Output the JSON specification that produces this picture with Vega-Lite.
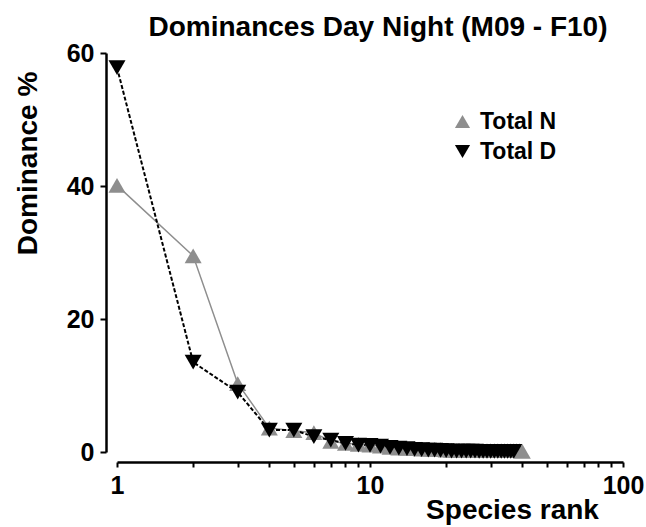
{
  "$schema": "https://vega.github.io/schema/vega-lite/v6.json",
  "autosize": "none",
  "width": 506,
  "height": 399,
  "padding": {"left": 117, "top": 53, "right": 23, "bottom": 75},
  "background": "white",
  "title": {
    "text": "Dominances Day Night (M09 - F10)",
    "font": "Liberation Sans",
    "fontSize": 28,
    "fontWeight": "bold",
    "color": "black",
    "anchor": "middle",
    "frame": "group",
    "baseline": "alphabetic",
    "offset": 17,
    "dx": 8,
    "dy": 40
  },
  "config": {
    "view": {"stroke": null},
    "axis": {
      "domainColor": "black",
      "domainWidth": 2.5,
      "tickColor": "black",
      "tickWidth": 2,
      "grid": false,
      "labelFont": "Liberation Sans",
      "labelFontWeight": "bold",
      "labelFontSize": 25,
      "labelColor": "black",
      "titleFont": "Liberation Sans",
      "titleFontWeight": "bold",
      "titleFontSize": 28,
      "titleColor": "black"
    }
  },
  "data": {
    "values": [
      {"rank": 1, "series": "Total N", "value": 40.1},
      {"rank": 2, "series": "Total N", "value": 29.5},
      {"rank": 3, "series": "Total N", "value": 10.3},
      {"rank": 4, "series": "Total N", "value": 3.6},
      {"rank": 5, "series": "Total N", "value": 3.2},
      {"rank": 6, "series": "Total N", "value": 2.9},
      {"rank": 7, "series": "Total N", "value": 1.6},
      {"rank": 8, "series": "Total N", "value": 1.3},
      {"rank": 9, "series": "Total N", "value": 1.15},
      {"rank": 10, "series": "Total N", "value": 1.05},
      {"rank": 11, "series": "Total N", "value": 0.9},
      {"rank": 12, "series": "Total N", "value": 0.7},
      {"rank": 13, "series": "Total N", "value": 0.6},
      {"rank": 14, "series": "Total N", "value": 0.55},
      {"rank": 15, "series": "Total N", "value": 0.5},
      {"rank": 16, "series": "Total N", "value": 0.45},
      {"rank": 17, "series": "Total N", "value": 0.4},
      {"rank": 18, "series": "Total N", "value": 0.4},
      {"rank": 19, "series": "Total N", "value": 0.35},
      {"rank": 20, "series": "Total N", "value": 0.3},
      {"rank": 21, "series": "Total N", "value": 0.25},
      {"rank": 22, "series": "Total N", "value": 0.2},
      {"rank": 23, "series": "Total N", "value": 0.2},
      {"rank": 24, "series": "Total N", "value": 0.2},
      {"rank": 25, "series": "Total N", "value": 0.2},
      {"rank": 26, "series": "Total N", "value": 0.2},
      {"rank": 27, "series": "Total N", "value": 0.2},
      {"rank": 28, "series": "Total N", "value": 0.2},
      {"rank": 29, "series": "Total N", "value": 0.2},
      {"rank": 30, "series": "Total N", "value": 0.2},
      {"rank": 31, "series": "Total N", "value": 0.2},
      {"rank": 32, "series": "Total N", "value": 0.2},
      {"rank": 33, "series": "Total N", "value": 0.2},
      {"rank": 34, "series": "Total N", "value": 0.2},
      {"rank": 35, "series": "Total N", "value": 0.2},
      {"rank": 36, "series": "Total N", "value": 0.2},
      {"rank": 37, "series": "Total N", "value": 0.2},
      {"rank": 38, "series": "Total N", "value": 0.2},
      {"rank": 39, "series": "Total N", "value": 0.2},
      {"rank": 40, "series": "Total N", "value": 0.1},
      {"rank": 1, "series": "Total D", "value": 57.8},
      {"rank": 2, "series": "Total D", "value": 13.5},
      {"rank": 3, "series": "Total D", "value": 9.0},
      {"rank": 4, "series": "Total D", "value": 3.3},
      {"rank": 5, "series": "Total D", "value": 3.3},
      {"rank": 6, "series": "Total D", "value": 2.3},
      {"rank": 7, "series": "Total D", "value": 1.8},
      {"rank": 8, "series": "Total D", "value": 1.3},
      {"rank": 9, "series": "Total D", "value": 1.05},
      {"rank": 10, "series": "Total D", "value": 1.0},
      {"rank": 11, "series": "Total D", "value": 0.9},
      {"rank": 12, "series": "Total D", "value": 0.7},
      {"rank": 13, "series": "Total D", "value": 0.6},
      {"rank": 14, "series": "Total D", "value": 0.5},
      {"rank": 15, "series": "Total D", "value": 0.4},
      {"rank": 16, "series": "Total D", "value": 0.35},
      {"rank": 17, "series": "Total D", "value": 0.3},
      {"rank": 18, "series": "Total D", "value": 0.3},
      {"rank": 19, "series": "Total D", "value": 0.25},
      {"rank": 20, "series": "Total D", "value": 0.2},
      {"rank": 21, "series": "Total D", "value": 0.15},
      {"rank": 22, "series": "Total D", "value": 0.15},
      {"rank": 23, "series": "Total D", "value": 0.15},
      {"rank": 24, "series": "Total D", "value": 0.15},
      {"rank": 25, "series": "Total D", "value": 0.15},
      {"rank": 26, "series": "Total D", "value": 0.15},
      {"rank": 27, "series": "Total D", "value": 0.1},
      {"rank": 28, "series": "Total D", "value": 0.1},
      {"rank": 29, "series": "Total D", "value": 0.1},
      {"rank": 30, "series": "Total D", "value": 0.1},
      {"rank": 31, "series": "Total D", "value": 0.1},
      {"rank": 32, "series": "Total D", "value": 0.1},
      {"rank": 33, "series": "Total D", "value": 0.1},
      {"rank": 34, "series": "Total D", "value": 0.1},
      {"rank": 35, "series": "Total D", "value": 0.1},
      {"rank": 36, "series": "Total D", "value": 0.1},
      {"rank": 37, "series": "Total D", "value": 0.1}
    ]
  },
  "encoding": {
    "x": {
      "field": "rank",
      "type": "quantitative",
      "scale": {"type": "log", "domain": [1, 100], "nice": false},
      "axis": {
        "title": "Species rank",
        "offset": 10,
        "values": [1, 2, 3, 4, 5, 6, 7, 8, 9, 10, 20, 30, 40, 50, 60, 70, 80, 90, 100],
        "labelExpr": "indexof([1, 10, 100], datum.value) >= 0 ? format(datum.value, 'd') : ''",
        "tickSize": 5,
        "labelPadding": 6,
        "labelFlush": false,
        "labelOverlap": false,
        "titleX": 395,
        "titleY": 56,
        "titleBaseline": "alphabetic",
        "titleAlign": "center"
      }
    },
    "y": {
      "field": "value",
      "type": "quantitative",
      "scale": {"domain": [0, 60], "nice": false},
      "axis": {
        "title": "Dominance %",
        "offset": 11,
        "values": [0, 20, 40, 60],
        "tickSize": 6,
        "labelPadding": 6,
        "titleX": -70,
        "titleY": 110,
        "titleAlign": "center",
        "titleBaseline": "alphabetic",
        "titleAngle": -90
      }
    }
  },
  "layer": [
    {
      "transform": [{"filter": "datum.series === 'Total N'"}],
      "mark": {"type": "line", "color": "#8e8e8e", "strokeWidth": 1.5}
    },
    {
      "transform": [{"filter": "datum.series === 'Total D'"}],
      "mark": {"type": "line", "color": "#000000", "strokeWidth": 2, "strokeDash": [4, 2]}
    },
    {
      "mark": {"type": "point", "filled": true, "opacity": 1, "size": 290},
      "encoding": {
        "color": {
          "field": "series",
          "type": "nominal",
          "scale": {"domain": ["Total N", "Total D"], "range": ["#8e8e8e", "#000000"]},
          "legend": {
            "title": null,
            "orient": "none",
            "legendX": 334,
            "legendY": 57,
            "labelFont": "Liberation Sans",
            "labelFontWeight": "bold",
            "labelFontSize": 23,
            "labelColor": "black",
            "symbolSize": 230,
            "rowPadding": 6,
            "labelOffset": 6
          }
        },
        "shape": {
          "field": "series",
          "type": "nominal",
          "scale": {"domain": ["Total N", "Total D"], "range": ["triangle-up", "triangle-down"]},
          "legend": {
            "title": null,
            "orient": "none",
            "legendX": 334,
            "legendY": 57,
            "labelFont": "Liberation Sans",
            "labelFontWeight": "bold",
            "labelFontSize": 23,
            "labelColor": "black",
            "symbolSize": 230,
            "rowPadding": 6,
            "labelOffset": 6
          }
        }
      }
    }
  ]
}
